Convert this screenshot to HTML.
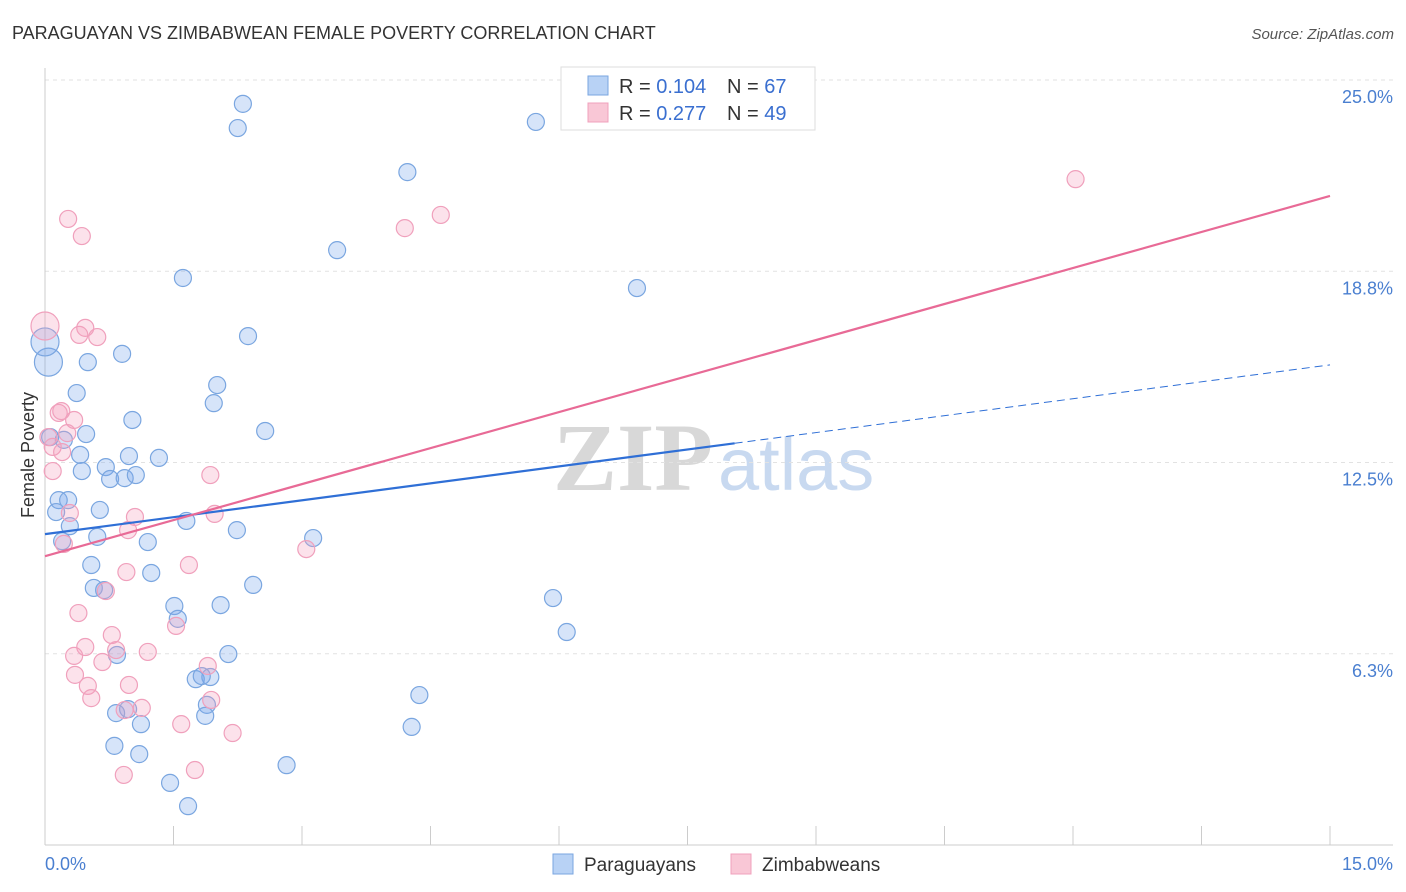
<!DOCTYPE html>
<html><head><meta charset="utf-8"><style>
body{margin:0;background:#fff;font-family:"Liberation Sans",sans-serif;}
</style></head><body>
<svg id="chart" width="1406" height="892" xmlns="http://www.w3.org/2000/svg" style="display:block">
<text x="12" y="39" font-size="18" fill="#333">PARAGUAYAN VS ZIMBABWEAN FEMALE POVERTY CORRELATION CHART</text>
<text x="1394" y="39" font-size="15" fill="#555" font-style="italic" text-anchor="end">Source: ZipAtlas.com</text>
<g font-size="96" font-weight="bold">
<text x="553" y="490" fill="#d8d8d8" font-family="Liberation Serif,serif">ZIP</text>
<text x="718" y="490" fill="#c8d9f0" font-weight="normal" font-size="74">atlas</text>
</g>
<g id="grid"></g>
<g id="axes"></g>
<g id="marks"></g>
<text transform="translate(34,455) rotate(-90)" font-size="18" fill="#333" text-anchor="middle">Female Poverty</text>
<g>
<rect x="561" y="67" width="254" height="63" fill="#fff" stroke="#ddd"/>
<rect x="588" y="76" width="20" height="19" fill="#b8d2f5" stroke="#7aa6e0"/>
<rect x="588" y="103" width="20" height="19" fill="#f9c7d6" stroke="#f0a0bc"/>
<text x="619" y="93" font-size="20" fill="#333">R = <tspan fill="#3a6fd0">0.104</tspan><tspan x="727">N = </tspan><tspan fill="#3a6fd0">67</tspan></text>
<text x="619" y="120" font-size="20" fill="#333">R = <tspan fill="#3a6fd0">0.277</tspan><tspan x="727">N = </tspan><tspan fill="#3a6fd0">49</tspan></text>
</g>
<g>
<rect x="553" y="854" width="20" height="20" fill="#b8d2f5" stroke="#7aa6e0"/>
<text x="584" y="871" font-size="19" fill="#333">Paraguayans</text>
<rect x="731" y="854" width="20" height="20" fill="#f9c7d6" stroke="#f0a0bc"/>
<text x="762" y="871" font-size="19" fill="#333">Zimbabweans</text>
</g>
</svg>
<script>
const yTicks=[6.25,12.5,18.75,25];
const yTickLabels=["6.3%","12.5%","18.8%","25.0%"];
const xTicks=[0,1.5,3,4.5,6,7.5,9,10.5,12,13.5,15];
const paraX=[2.31,2.25,5.73,4.23,3.41,1.61,6.91,2.37,0.90,0.50,0.04,0,0.37,2.01,1.97,1.02,2.57,0.48,0.22,0.06,0.41,1.33,0.98,0.71,0.43,0.76,0.93,1.06,0.16,0.27,0.13,0.64,1.65,0.29,2.24,0.61,3.13,1.20,0.20,0.54,1.24,2.43,0.57,0.69,5.93,1.51,2.05,1.55,6.09,0.84,2.14,1.76,1.93,1.83,4.37,1.89,0.97,0.83,1.87,1.12,4.28,0.81,1.10,2.82,1.46,1.67];
const paraY=[24.22,23.43,23.63,21.99,19.44,18.53,18.20,16.63,16.05,15.78,15.78,16.44,14.77,15.03,14.44,13.89,13.53,13.43,13.24,13.33,12.75,12.65,12.71,12.35,12.22,11.96,11.99,12.09,11.27,11.27,10.88,10.95,10.59,10.42,10.29,10.07,10.03,9.90,9.93,9.15,8.89,8.50,8.40,8.33,8.07,7.81,7.84,7.39,6.96,6.21,6.24,5.42,5.49,5.52,4.90,4.58,4.44,4.31,4.22,3.95,3.86,3.24,2.97,2.61,2.03,1.27];
const paraBig=[10,11];
const zimX=[12.03,4.62,4.20,0.27,0.43,0,0.47,0.40,0.61,0.16,0.34,0.19,0.04,0.26,0.09,0.20,0.09,1.93,0.29,1.98,1.05,0.97,0.22,3.05,1.68,0.95,0.71,0.39,1.53,0.78,0.47,1.20,0.83,0.34,0.67,1.90,0.35,0.98,0.50,0.54,1.94,1.13,0.93,1.59,2.19,0.92,1.75];
const zimY=[21.76,20.59,20.16,20.46,19.90,16.96,16.90,16.67,16.60,14.12,13.89,14.18,13.33,13.46,13.01,12.84,12.22,12.09,10.85,10.82,10.72,10.29,9.84,9.67,9.15,8.92,8.30,7.58,7.16,6.86,6.47,6.31,6.37,6.18,5.98,5.85,5.56,5.23,5.20,4.80,4.74,4.48,4.41,3.95,3.66,2.29,2.45];
const zimBig=[5];
const paraTrend=[10.16,15.69], paraSolidEnd=8.05;
const zimTrend=[9.44,21.21];

const X0=45,X1=1330,Y0=845,Y1=80;
const sx=v=>X0+(v/15)*(X1-X0);
const sy=v=>Y0-(v/25)*(Y0-Y1);
const NS="http://www.w3.org/2000/svg";
function mk(tag,attrs,parent){const e=document.createElementNS(NS,tag);for(const k in attrs)e.setAttribute(k,attrs[k]);parent.appendChild(e);return e;}
const grid=document.getElementById('grid'),axes=document.getElementById('axes'),marks=document.getElementById('marks');
yTicks.forEach((t,i)=>{
  const l=mk('line',{x1:X0,x2:1393,y1:sy(t),y2:sy(t),stroke:'#e2e2e2','stroke-dasharray':'4,4'},grid);
  
  
  const tx=mk('text',{x:1393,y:sy(t)+23,'font-size':18,fill:'#4a7fd0','text-anchor':'end'},axes);
  tx.textContent=yTickLabels[i];
  
  
});
mk('line',{x1:X0,x2:X0,y1:68,y2:Y0,stroke:'#ccc'},axes);
mk('line',{x1:X0,x2:1393,y1:Y0,y2:Y0,stroke:'#ccc'},axes);
xTicks.forEach(t=>{
  const l=mk('line',{x1:sx(t),x2:sx(t),y1:826,y2:Y0,stroke:'#ccc'},axes);
  
  
});
const xl0=mk('text',{x:45,y:870,'font-size':18,fill:'#4a7fd0'},axes);xl0.textContent='0.0%';


const xl1=mk('text',{x:1393,y:870,'font-size':18,fill:'#4a7fd0','text-anchor':'end'},axes);xl1.textContent='15.0%';



function dots(xs,ys,big,fill,stroke,name){
  xs.forEach((x,i)=>{
    const c=mk('circle',{cx:sx(x),cy:sy(ys[i]),r:big.includes(i)?14:8.5,fill:fill,stroke:stroke,'stroke-width':1.2},marks);
    
    
  });
}
dots(paraX,paraY,paraBig,'rgba(120,165,235,0.3)','#7aa6e0','paraguayan-point');
dots(zimX,zimY,zimBig,'rgba(245,160,190,0.3)','#f0a0bc','zimbabwean-point');
const pv=x=>paraTrend[0]+(paraTrend[1]-paraTrend[0])*x/15;
const l1=mk('line',{x1:sx(0),y1:sy(pv(0)),x2:sx(paraSolidEnd),y2:sy(pv(paraSolidEnd)),stroke:'#2f6fd6','stroke-width':2.2},marks);


const l2=mk('line',{x1:sx(paraSolidEnd),y1:sy(pv(paraSolidEnd)),x2:sx(15),y2:sy(pv(15)),stroke:'#2f6fd6','stroke-width':1,'stroke-dasharray':'8,5'},marks);


const l3=mk('line',{x1:sx(0),y1:sy(zimTrend[0]),x2:sx(15),y2:sy(zimTrend[1]),stroke:'#e86a96','stroke-width':2.2},marks);


</script>
</body></html>
